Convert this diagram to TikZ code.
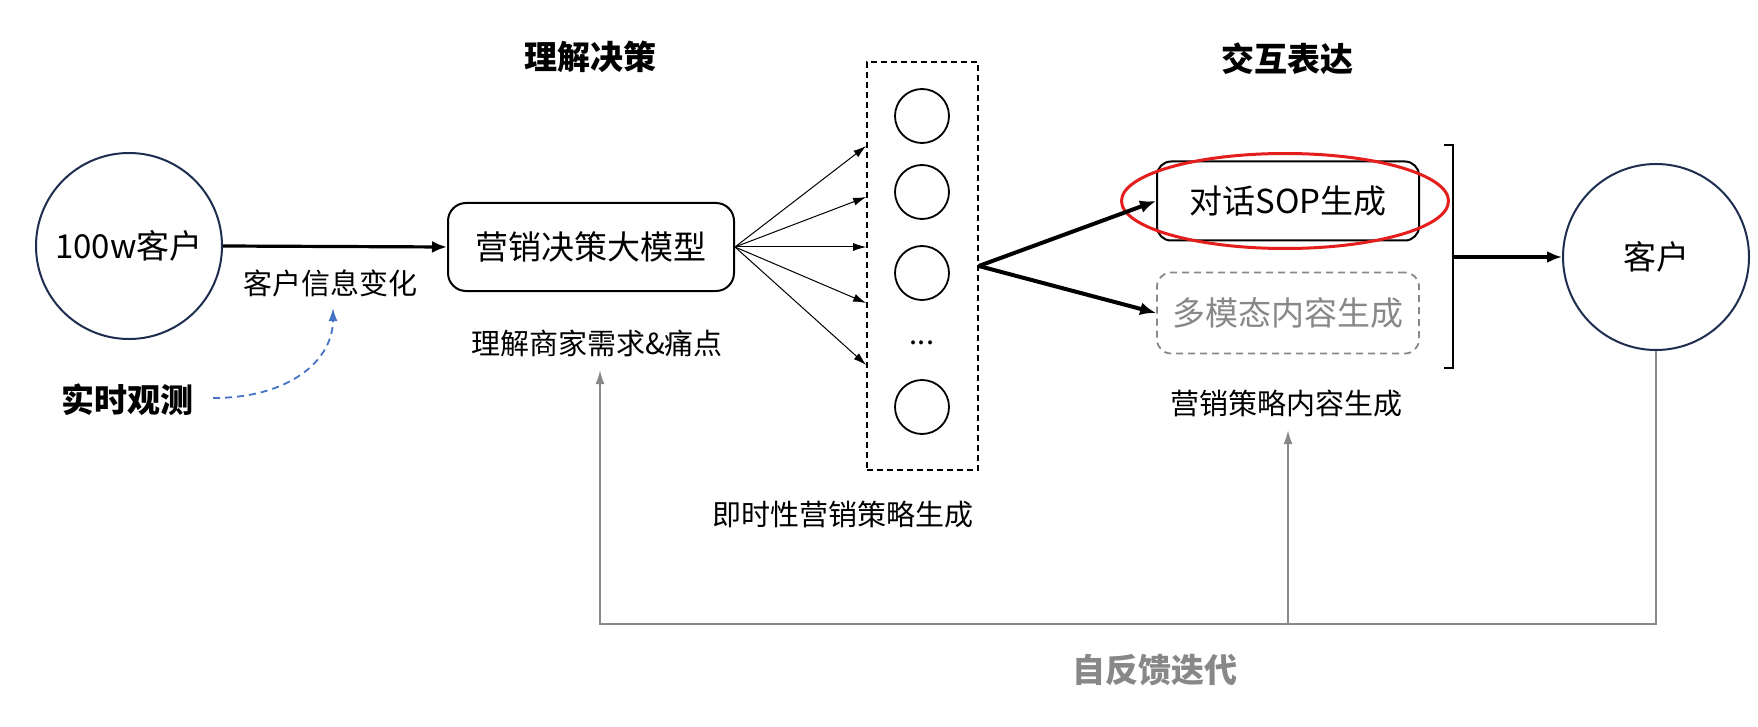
\documentclass[tikz,border=0pt]{standalone}
\usepackage{fontspec}
\setmainfont{Noto Sans CJK SC}
\usetikzlibrary{arrows.meta,shapes.geometric,calc}
\definecolor{navy}{RGB}{30,45,80}
\definecolor{fbgray}{RGB}{136,136,136}
\definecolor{obsblue}{RGB}{68,114,196}
\definecolor{hlred}{RGB}{228,30,28}
\newcommand{\lblfont}{\fontsize{29}{34}\selectfont}
\newcommand{\boxfont}{\fontsize{33}{38}\selectfont}
\begin{document}
\begin{tikzpicture}[x=1pt,y=-1pt,
  bigcirc/.style={circle,draw=navy,line width=2pt,inner sep=0pt,minimum size=186pt,font=\boxfont},
  smallcirc/.style={circle,draw=black,line width=1.8pt,inner sep=0pt,minimum size=54pt},
  modelbox/.style={draw=black,line width=2pt,rounded corners=18pt,inner sep=0pt,font=\boxfont},
  txt/.style={inner sep=0pt,font=\lblfont},
  head/.style={inner sep=0pt,font=\boxfont\bfseries},
  mainarrow/.style={line width=3.2pt,-{Latex[length=15pt,width=12pt]}},
  fanarrow/.style={line width=1pt,-{Latex[length=13pt,width=8pt]}},
  fbline/.style={draw=fbgray,line width=2pt},
  fbarrow/.style={fbline,-{Latex[length=14pt,width=9pt]}}
]
\useasboundingbox[fill=white] (0,0) rectangle (1758,727);

% headings
\node[head] (hA) at (590,57) {理解决策};
\node[head] (hB) at (1287,59) {交互表达};

% left part
\node[bigcirc] (c1) at (129,246) {100w客户};
\node[modelbox,minimum width=286pt,minimum height=88pt] (m) at (591,247) {营销决策大模型};
\draw[mainarrow] (c1.east) -- (m.west);
\node[txt] (info) at (330,283) {客户信息变化};
\node[txt] (need) at (597,343) {理解商家需求\&痛点};
\node[head] (obs) at (127,400) {实时观测};
\coordinate (obsTip) at (333,308);
\draw[obsblue,line width=1.8pt,dash pattern=on 7pt off 5pt,-{Latex[length=13pt,width=9pt]}]
  ($(obs.east)+(20,-2)$) .. controls (290,398) and (333,360) .. (obsTip);

% layer of units
\node[draw=black,line width=1.6pt,dash pattern=on 6pt off 4pt,minimum width=111pt,minimum height=408pt,inner sep=0pt] (layer) at (922.5,266) {};
\node[smallcirc] (n1) at (922,116) {};
\node[smallcirc] (n2) at (922,192) {};
\node[smallcirc] (n3) at (922,273) {};
\node[txt] (ndots) at (922,343) {...};
\node[smallcirc] (n5) at (922,407) {};
\node[txt] (layerlbl) at (843,515) {即时性营销策略生成};

\foreach \yy in {146,197,247,303,365}{
  \draw[fanarrow] (m.east) -- (layer.west |- 0,\yy);
}

% interaction part
\node[modelbox,rounded corners=14pt,minimum width=262pt,minimum height=79pt] (sop) at (1288,201) {对话SOP生成};
\node[ellipse,draw=hlred,line width=3pt,minimum width=327pt,minimum height=95pt,inner sep=0pt] (hl) at (1285,201) {};
\node[draw=fbgray,line width=1.8pt,dash pattern=on 7pt off 5pt,rounded corners=14pt,minimum width=262pt,minimum height=81pt,inner sep=0pt,text=fbgray,font=\boxfont] (mm) at (1288,313) {多模态内容生成};
\node[txt] (stratlbl) at (1286,403) {营销策略内容生成};

\draw[line width=4pt,-{Latex[length=16pt,width=13pt]}] (layer.east) -- (sop.west);
\draw[line width=4pt,-{Latex[length=16pt,width=13pt]}] (layer.east) -- (mm.west);

% bracket
\coordinate (brT) at (1453,145);
\coordinate (brB) at (1453,368);
\coordinate (brM) at (1453,257);
\draw[line width=2pt] ($(brT)+(-9,0)$) -- (brT) -- (brB) -- ($(brB)+(-9,0)$);

\node[bigcirc] (c2) at (1656,257) {客户};
\draw[mainarrow] (brM) -- (c2.west);

% feedback loop
\coordinate (tipA) at (600,370);
\coordinate (tipB) at (1288,430);
\coordinate (fbY) at (0,624);
\draw[fbarrow] (c2.south) |- (tipA |- fbY) -- (tipA);
\draw[fbarrow] (tipB |- fbY) -- (tipB);
\node[head,text=fbgray] (fblbl) at (1155,670) {自反馈迭代};
\end{tikzpicture}
\end{document}
